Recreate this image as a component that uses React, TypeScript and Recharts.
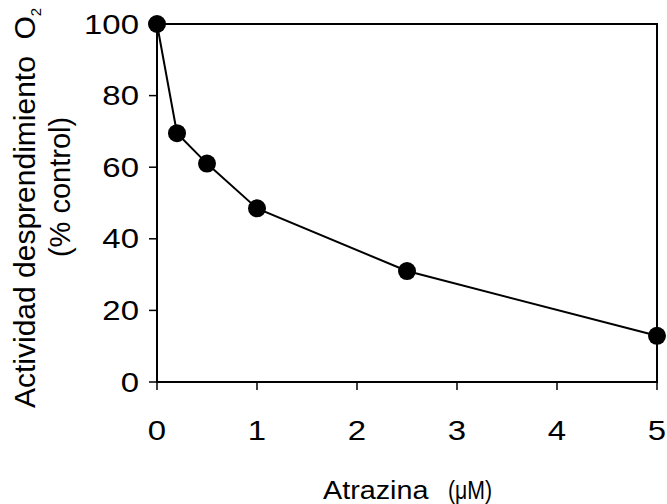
import React from 'react';
import { LineChart, Line, XAxis, YAxis, ReferenceArea, Label } from 'recharts';

// concentración de atrazina (µM) y actividad (% del control)
const atrazina = [0, 0.2, 0.5, 1, 2.5, 5];
const actividad = [100, 69.5, 61, 48.5, 31, 12.9];
const xTicks = [0, 1, 2, 3, 4, 5];
const yTicks = [0, 20, 40, 60, 80, 100];

const data = atrazina.map((x, i) => ({ x, y: actividad[i] }));

const FONT = 'Arial, "Liberation Sans", sans-serif';

const XTick = (props: any) => {
  const { x, y, payload } = props;
  return (
    <g transform={`translate(${x},${y})`}>
      <text transform="scale(1.22,1)" textAnchor="middle" dy="0.71em" fontSize={27} fontFamily={FONT} fill="#000">
        {payload.value}
      </text>
    </g>
  );
};

const YTick = (props: any) => {
  const { x, y, payload } = props;
  return (
    <g transform={`translate(${x},${y})`}>
      <text transform="scale(1.22,1)" textAnchor="end" dy="0.355em" fontSize={27} fontFamily={FONT} fill="#000">
        {payload.value}
      </text>
    </g>
  );
};

const XTitle = (props: any) => {
  const { viewBox } = props;
  const cx = viewBox.x + viewBox.width / 2;
  return (
    <g fontFamily={FONT} fill="#000">
      <g transform={`translate(${cx - 84},499)`}>
        <text transform="scale(1.15,1)" fontSize={25}>Atrazina</text>
      </g>
      <g transform={`translate(${cx + 41},499)`}>
        <text transform="scale(0.85,1)" fontSize={25}>{'(\u03BCM)'}</text>
      </g>
    </g>
  );
};

const YTitle = () => (
  <g fontFamily={FONT} fill="#000">
    <text transform="translate(35,408) rotate(-90)" textAnchor="start" fontSize={30} style={{ whiteSpace: 'pre' }}>
      {'Actividad desprendimiento  O'}
      <tspan fontSize={15} dy={6}>2</tspan>
    </text>
    <text transform="translate(70,187) rotate(-90)" textAnchor="middle" fontSize={29}>
      (% control)
    </text>
  </g>
);

export default function App() {
  return (
    <div style={{ position: 'absolute', left: 0, top: 0, background: '#fff' }}>
      <LineChart width={667} height={504} data={data} margin={{ top: 24, right: 10, bottom: 0, left: 0 }}>
        <XAxis
          type="number"
          dataKey="x"
          domain={[0, 5]}
          ticks={xTicks}
          interval={0}
          height={122}
          tickSize={8}
          tickMargin={31}
          tick={<XTick />}
          axisLine={{ stroke: '#000', strokeWidth: 2 }}
          tickLine={{ stroke: '#000', strokeWidth: 1.5 }}
        >
          <Label content={<XTitle />} />
        </XAxis>
        <YAxis
          type="number"
          domain={[0, 100]}
          ticks={yTicks}
          interval={0}
          width={157}
          tickSize={8}
          tickMargin={10}
          tick={<YTick />}
          axisLine={{ stroke: '#000', strokeWidth: 2 }}
          tickLine={{ stroke: '#000', strokeWidth: 1.5 }}
        >
          <Label content={<YTitle />} />
        </YAxis>
        <ReferenceArea x1={0} x2={5} y1={0} y2={100} fill="none" stroke="#000" strokeWidth={2} fillOpacity={0} />
        <Line
          type="linear"
          dataKey="y"
          stroke="#000"
          strokeWidth={2}
          dot={{ r: 9, fill: '#000', stroke: 'none' }}
          isAnimationActive={false}
        />
      </LineChart>
    </div>
  );
}
